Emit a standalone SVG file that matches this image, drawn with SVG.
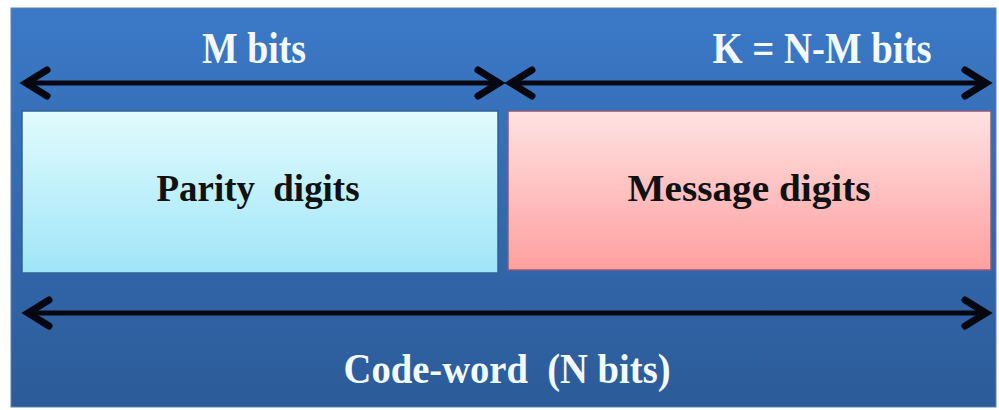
<svg xmlns="http://www.w3.org/2000/svg" width="999" height="410" viewBox="0 0 999 410">
  <defs>
    <linearGradient id="panelGrad" x1="0" y1="0" x2="0" y2="1">
      <stop offset="0" stop-color="#3b79c7"/>
      <stop offset="0.5" stop-color="#3469b0"/>
      <stop offset="1" stop-color="#2c5b98"/>
    </linearGradient>
    <linearGradient id="parityGrad" x1="0" y1="0" x2="0" y2="1">
      <stop offset="0" stop-color="#e2fbfd"/>
      <stop offset="1" stop-color="#9fe5f8"/>
    </linearGradient>
    <linearGradient id="msgGrad" x1="0" y1="0" x2="0" y2="1">
      <stop offset="0" stop-color="#ffe2e2"/>
      <stop offset="1" stop-color="#ff9f9f"/>
    </linearGradient>
    <marker id="head" markerUnits="userSpaceOnUse" markerWidth="40" markerHeight="40" viewBox="-30 -20 40 40" refX="0" refY="0" orient="auto-start-reverse" overflow="visible">
      <path d="M -21 -13 L 0 0 L -21 13" fill="none" stroke="#050810" stroke-width="7" stroke-linecap="round" stroke-linejoin="miter"/>
    </marker>
  </defs>
  <style>
    .lbl { font-family: "Liberation Serif", "Times New Roman", serif; font-weight: bold; font-size: 38px; white-space: pre; }
    .light { fill: #f2f9ff; }
    .dark { fill: #111111; }
    .arrow { stroke: #050810; stroke-width: 5; fill: none; }
  </style>
  <rect width="999" height="410" fill="#ffffff"/>
  <g id="panel">
    <rect x="11" y="8" width="985" height="399" fill="url(#panelGrad)" stroke="#5a82b0" stroke-width="1"/>
  </g>
  <g id="parity">
    <rect x="22" y="111" width="476" height="162" fill="url(#parityGrad)" stroke="#2f6194" stroke-width="1.5"/>
    <text class="lbl dark" x="258" y="201" text-anchor="middle" textLength="203" lengthAdjust="spacingAndGlyphs">Parity  digits</text>
  </g>
  <g id="message">
    <rect x="508" y="111" width="483" height="159" fill="url(#msgGrad)" stroke="#8a5a78" stroke-width="1.5"/>
    <text class="lbl dark" x="749" y="201" text-anchor="middle" textLength="243" lengthAdjust="spacingAndGlyphs">Message digits</text>
  </g>
  <g id="labels">
    <text class="lbl light" transform="translate(254 63) scale(1 1.18)" text-anchor="middle" textLength="104" lengthAdjust="spacingAndGlyphs">M bits</text>
    <text class="lbl light" transform="translate(822 63) scale(1 1.18)" text-anchor="middle" textLength="219" lengthAdjust="spacingAndGlyphs">K = N-M bits</text>
    <text class="lbl light" transform="translate(507 383) scale(1 1.12)" text-anchor="middle" textLength="327" lengthAdjust="spacingAndGlyphs">Code-word  (N bits)</text>
  </g>
  <g id="connectors">
    <line class="arrow" x1="26" y1="83" x2="499" y2="83" marker-start="url(#head)" marker-end="url(#head)"/>
    <line class="arrow" x1="511" y1="83" x2="986" y2="83" marker-start="url(#head)" marker-end="url(#head)"/>
    <line class="arrow" x1="28" y1="313" x2="986" y2="313" marker-start="url(#head)" marker-end="url(#head)"/>
  </g>
</svg>
